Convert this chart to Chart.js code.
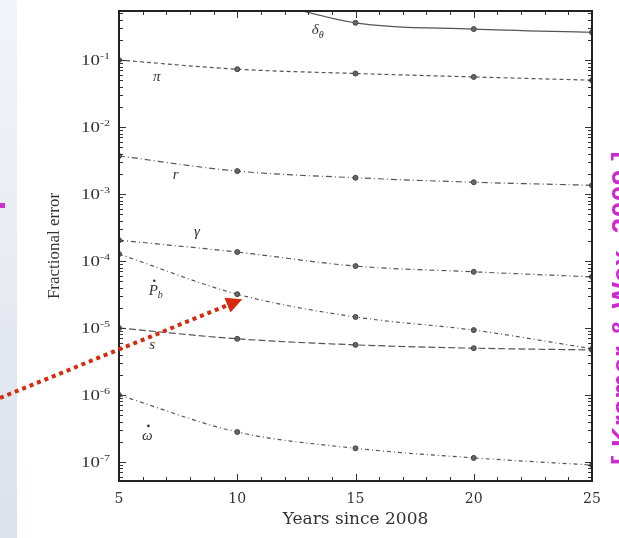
<!DOCTYPE html>
<html>
<head>
<meta charset="utf-8">
<title>Fractional error vs years</title>
<script src="https://cdn.jsdelivr.net/npm/chart.js@4.4.1/dist/chart.umd.min.js"></script>
<style>
  body { margin: 0; background: #fff; overflow: hidden; }
  #wrap { position: relative; width: 619px; height: 538px; overflow: hidden; }
  #strip { position: absolute; left: 0; top: 0; width: 17px; height: 538px;
           background: linear-gradient(#f2f5fa, #dbe2eb); }
  #mark { position: absolute; left: 0; top: 203px; width: 5px; height: 5px; background: #cc33cc; }
  #cite { position: absolute; left: 622px; top: 308px; white-space: nowrap;
          transform: translate(-50%, -50%) rotate(-90deg);
          font: bold 28px "Liberation Sans", Arial, sans-serif; line-height: 28px;
          letter-spacing: 0.5px; color: #cc2acc; }
  canvas { position: absolute; left: 0; top: 0; }
</style>
</head>
<body>
<div id="wrap">
  <div id="strip"></div>
  <div id="mark"></div>
  <canvas id="errChart" width="619" height="538"></canvas>
  <div id="cite">[ Kramer &amp; Wex, 2009 ]</div>
</div>
<script>
// years of timing since 2008
var years = [5, 10, 15, 20, 25];

// fractional error for each parameter
var deltaTheta = [null, 1.0, 0.36, 0.29, 0.26];
var parallax   = [0.1, 0.073, 0.063, 0.056, 0.050];
var rShapiro   = [3.7e-3, 2.2e-3, 1.75e-3, 1.5e-3, 1.35e-3];
var gammaErr   = [2.05e-4, 1.36e-4, 8.4e-5, 6.9e-5, 5.8e-5];
var pbDot      = [1.27e-4, 3.2e-5, 1.46e-5, 9.3e-6, 4.9e-6];
var sShapiro   = [1.0e-5, 6.9e-6, 5.6e-6, 5.0e-6, 4.7e-6];
var omegaDot   = [1.0e-6, 2.8e-7, 1.6e-7, 1.15e-7, 9.0e-8];

// decades labelled on the y axis
var decades = [-7, -6, -5, -4, -3, -2, -1];
var xTickLabels = [5, 10, 15, 20, 25];

// where each curve name sits (x in years, y in fractional error)
var curveNames = [
    { text: 'δ', sub: 'θ', x: 13.3, y: 0.28 },
    { text: 'π', sub: '', x: 6.6, y: 0.056 },
    { text: 'r', sub: '', x: 7.4, y: 1.9e-3 },
    { text: 'γ', sub: '', x: 8.3, y: 2.7e-4 },
    { text: 'P', sub: 'b', x: 6.45, y: 3.6e-5, dot: true },
    { text: 's', sub: '', x: 6.4, y: 5.6e-6 },
    { text: 'ω', sub: '', x: 6.2, y: 2.45e-7, dot: true }
];

// minor ticks 1..9 x 10^n for every decade in range
var yTickValues = [];
for (var e = -8; e <= 0; e++) {
    for (var m = 1; m <= 9; m++) {
        yTickValues.push(m * Math.pow(10, e));
    }
}

var serif = '"Liberation Serif", "Times New Roman", serif';
var ink = '#333';

function series(data, dash) {
    return {
        data: data,
        borderColor: '#555',
        borderWidth: 1.2,
        borderDash: dash,
        pointRadius: 2.5,
        pointBackgroundColor: '#666',
        pointBorderColor: '#444',
        pointBorderWidth: 1,
        cubicInterpolationMode: 'monotone',
        fill: false
    };
}

// inward tick marks, frame and y decade labels
var frameTicks = {
    id: 'frameTicks',
    afterDraw: function(chart) {
        var ctx = chart.ctx, a = chart.chartArea;
        var x = chart.scales.x, y = chart.scales.y;
        ctx.save();
        ctx.strokeStyle = ink;
        ctx.lineWidth = 1;
        ctx.beginPath();
        x.ticks.forEach(function(t) {
            var px = Math.round(x.getPixelForValue(t.value)) + 0.5;
            var len = t.value % 5 === 0 ? 7 : 4;
            ctx.moveTo(px, a.bottom); ctx.lineTo(px, a.bottom - len);
            ctx.moveTo(px, a.top); ctx.lineTo(px, a.top + len);
        });
        y.ticks.forEach(function(t) {
            if (t.value < y.min || t.value > y.max) return;
            var py = Math.round(y.getPixelForValue(t.value)) + 0.5;
            var mant = t.value / Math.pow(10, Math.floor(Math.log10(t.value) + 1e-9));
            var len = Math.abs(mant - 1) < 1e-6 ? 7 : 4;
            ctx.moveTo(a.left, py); ctx.lineTo(a.left + len, py);
            ctx.moveTo(a.right, py); ctx.lineTo(a.right - len, py);
        });
        ctx.stroke();
        ctx.lineWidth = 2;
        ctx.strokeStyle = '#222';
        ctx.strokeRect(a.left, a.top, a.right - a.left, a.bottom - a.top);

        // decade labels, 10 with a raised exponent
        ctx.fillStyle = ink;
        ctx.textBaseline = 'alphabetic';
        decades.forEach(function(d) {
            var py = y.getPixelForValue(Math.pow(10, d));
            ctx.save();
            ctx.translate(a.left - 9, py);
            ctx.scale(1.35, 1);
            ctx.textAlign = 'right';
            ctx.font = '9px ' + serif;
            var exp = '-' + Math.abs(d);
            var ew = ctx.measureText(exp).width;
            ctx.fillText(exp, 0, -1);
            ctx.font = '14px ' + serif;
            ctx.fillText('10', -ew, 5);
            ctx.restore();
        });

        // curve names
        curveNames.forEach(function(c) {
            var px = x.getPixelForValue(c.x), py = y.getPixelForValue(c.y);
            ctx.font = 'italic 15px ' + serif;
            ctx.textAlign = 'left';
            ctx.textBaseline = 'middle';
            var w = ctx.measureText(c.text).width;
            ctx.fillText(c.text, px - w / 2, py);
            if (c.dot) {
                ctx.beginPath();
                ctx.arc(px + 1, py - 10, 1.3, 0, Math.PI * 2);
                ctx.fill();
            }
            if (c.sub) {
                ctx.font = 'italic 10px ' + serif;
                ctx.fillText(c.sub, px + w / 2, py + 5);
            }
        });
        ctx.restore();

        // red dotted pointer to the Pb-dot value at 10 years
        var tipX = x.getPixelForValue(years[1]) + 5;
        var tipY = y.getPixelForValue(pbDot[1]) + 5;
        var tailX = 0, tailY = 398;
        var ang = Math.atan2(tipY - tailY, tipX - tailX);
        var head = 16;
        var bx = tipX - head * Math.cos(ang), by = tipY - head * Math.sin(ang);
        ctx.save();
        ctx.strokeStyle = '#d62a0c';
        ctx.fillStyle = '#d62a0c';
        ctx.lineWidth = 4;
        ctx.setLineDash([4, 4]);
        ctx.beginPath();
        ctx.moveTo(tailX, tailY);
        ctx.lineTo(bx, by);
        ctx.stroke();
        ctx.setLineDash([]);
        ctx.beginPath();
        ctx.moveTo(tipX, tipY);
        ctx.lineTo(bx + 8 * Math.sin(ang), by - 8 * Math.cos(ang));
        ctx.lineTo(bx - 8 * Math.sin(ang), by + 8 * Math.cos(ang));
        ctx.closePath();
        ctx.fill();
        ctx.restore();
    }
};

var ctx = document.getElementById('errChart').getContext('2d');
var errChart = new Chart(ctx, {
    type: 'line',
    data: {
        labels: years,
        datasets: [
            series(deltaTheta, []),
            series(parallax, [4, 3]),
            series(rShapiro, [6, 3, 1, 3]),
            series(gammaErr, [5, 3, 1, 3]),
            series(pbDot, [4, 3, 1, 3]),
            series(sShapiro, [7, 3]),
            series(omegaDot, [4, 3, 1, 3])
        ]
    },
    options: {
        responsive: false,
        animation: false,
        layout: { padding: { left: 40, right: 27, top: 11, bottom: 0 } },
        plugins: {
            legend: { display: false },
            tooltip: { enabled: false }
        },
        scales: {
            x: {
                type: 'linear',
                min: 5,
                max: 25,
                grid: { display: false },
                border: { display: false },
                ticks: {
                    stepSize: 1,
                    autoSkip: false,
                    maxRotation: 0,
                    padding: 2,
                    color: ink,
                    font: { family: '"DejaVu Serif", serif', size: 14 },
                    callback: function(v) { return xTickLabels.indexOf(v) >= 0 ? v : ''; }
                },
                title: {
                    display: true,
                    text: 'Years since 2008',
                    color: ink,
                    font: { family: '"DejaVu Serif", serif', size: 17 },
                    padding: { top: 0, bottom: 8 }
                },
                afterFit: function(s) { s.height = 57; }
            },
            y: {
                type: 'logarithmic',
                min: 5.2e-8,
                max: 0.54,
                grid: { display: false },
                border: { display: false },
                ticks: { display: false },
                afterBuildTicks: function(s) {
                    s.ticks = yTickValues.map(function(v) { return { value: v }; });
                },
                title: {
                    display: true,
                    text: 'Fractional error',
                    color: ink,
                    font: { family: serif, size: 17 },
                    padding: { top: 4, bottom: 0 }
                },
                afterFit: function(s) { s.width = 79; }
            }
        }
    },
    plugins: [frameTicks]
});
</script>
</body>
</html>
